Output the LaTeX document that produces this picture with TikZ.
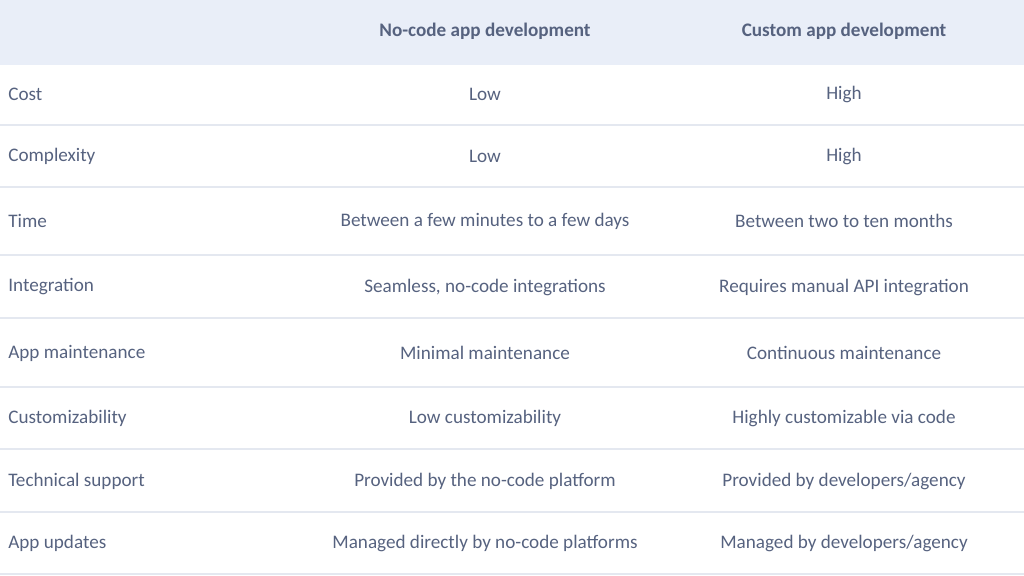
\documentclass[tikz,border=0pt]{standalone}
\usepackage{fontspec}
\setmainfont{Carlito}
\usetikzlibrary{positioning}
\definecolor{headbg}{HTML}{E9EEF8}
\definecolor{rule}{HTML}{E4E8F0}
\definecolor{txt}{HTML}{56627F}
\tikzset{
    cell/.style={text=txt, font=\fontsize{10.9}{12}\selectfont, inner sep=0pt},
    rowlabel/.style={cell, anchor=west},
    headcell/.style={cell, font=\fontsize{10.9}{12}\selectfont\bfseries}
}
\begin{document}
\begin{tikzpicture}[x=0.02cm, y=-0.02cm]
    \useasboundingbox (0,0) rectangle (1024,575);
    \fill[headbg] (0,0) rectangle (1024,65);
    % row separators
    \foreach \y in {125,187,255,318,387,449,512,574} {
        \draw[rule, line width=0.6pt] (0,\y) -- (1024,\y);
    }
    \node[headcell] (hnc) at (485,31) {No-code app development};
    \node[headcell] (hcu) at (844,31) {Custom app development};
    \foreach \y/\a/\b/\c [count=\i] in {
        94/Cost/Low/High,
        156/Complexity/Low/High,
        221/Time/Between a few minutes to a few days/Between two to ten months,
        287/Integration/{Seamless, no-code integrations}/Requires manual API integration,
        353/App maintenance/Minimal maintenance/Continuous maintenance,
        418/Customizability/Low customizability/Highly customizable via code,
        481/Technical support/Provided by the no-code platform/{Provided by developers/agency},
        543/App updates/Managed directly by no-code platforms/{Managed by developers/agency}} {
        \node[rowlabel] (r\i) at (8,\y) {\a};
        \node[cell] (n\i) at (485,\y) {\b};
        \node[cell] (c\i) at (844,\y) {\c};
    }
\end{tikzpicture}
\end{document}
